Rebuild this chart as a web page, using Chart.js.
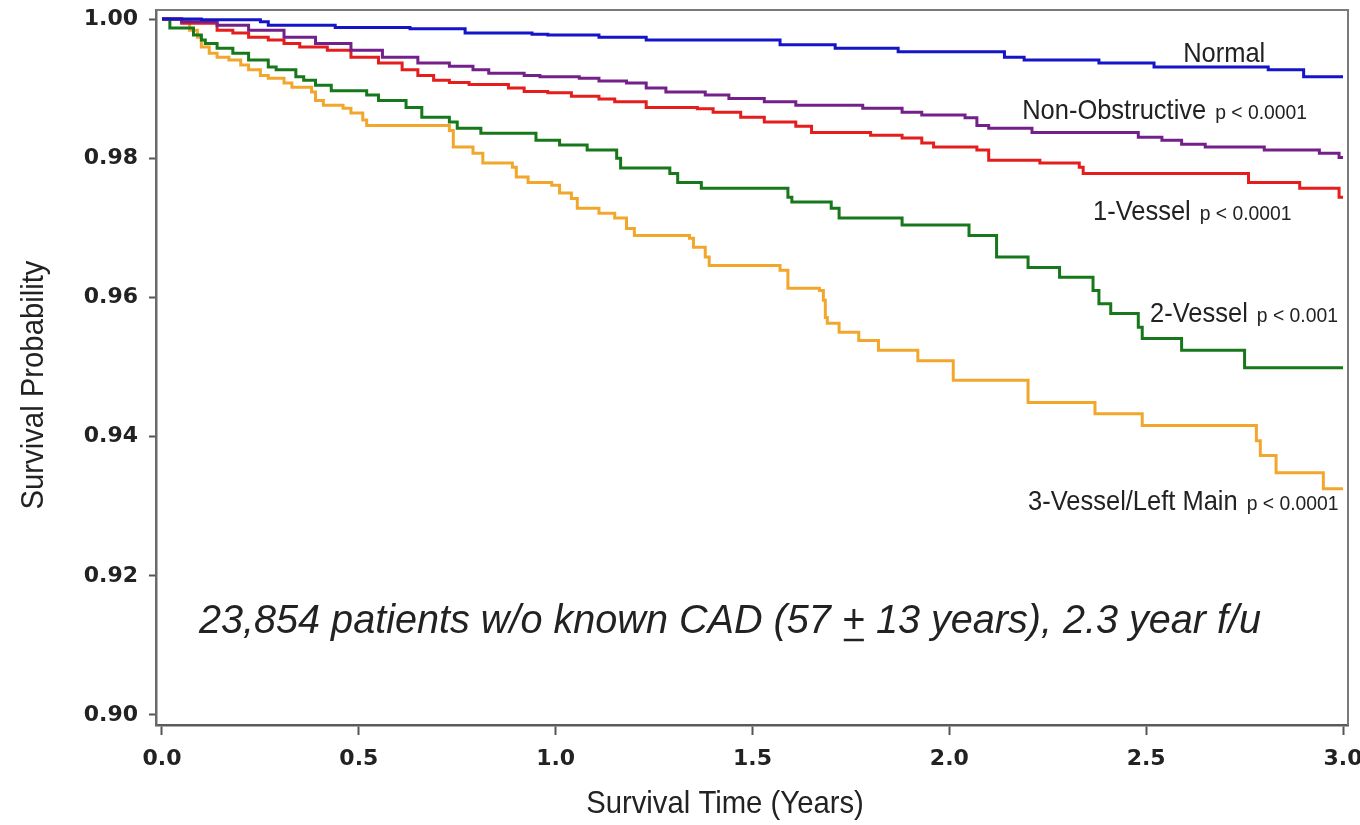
<!DOCTYPE html>
<html>
<head>
<meta charset="utf-8">
<title>Survival by CAD extent</title>
<script src="https://cdn.jsdelivr.net/npm/chart.js@4.4.1/dist/chart.umd.min.js"></script>
<style>
  html, body { margin: 0; padding: 0; background: #fff; }
  #wrap { width: 1360px; height: 825px; }
</style>
</head>
<body>
<div id="wrap"><canvas id="km" width="1360" height="825"></canvas></div>
<script>
// Kaplan-Meier survival steps (time in years, survival probability)
const normalT = [0, 0.10, 0.25, 0.27, 0.44, 0.63, 0.77, 0.94, 0.98, 1.11, 1.23, 1.57, 1.71, 1.87, 2.14, 2.19, 2.38, 2.52, 2.81, 2.90, 3.0];
const normalS = [1, 0.9999, 0.9996, 0.9991, 0.9988, 0.9986, 0.9980, 0.9978, 0.9977, 0.9974, 0.9970, 0.9963, 0.9958, 0.9953, 0.9945, 0.9941, 0.9937, 0.9931, 0.9927, 0.9917, 0.9917];

const nonObsT = [0, 0.05, 0.14, 0.22, 0.31, 0.39, 0.48, 0.56, 0.65, 0.73, 0.79, 0.83, 0.92, 0.96, 1.06, 1.11, 1.18, 1.23, 1.28, 1.38, 1.44, 1.53, 1.61, 1.78, 1.88, 1.93, 2.04, 2.07, 2.10, 2.21, 2.48, 2.54, 2.59, 2.65, 2.80, 2.94, 2.99, 3.0];
const nonObsS = [1, 0.9996, 0.9991, 0.9984, 0.9974, 0.9965, 0.9955, 0.9945, 0.9937, 0.9932, 0.9927, 0.9922, 0.9919, 0.9917, 0.9915, 0.9911, 0.9908, 0.9901, 0.9895, 0.9891, 0.9886, 0.9881, 0.9876, 0.9872, 0.9866, 0.9862, 0.9858, 0.9847, 0.9843, 0.9837, 0.9830, 0.9826, 0.9820, 0.9816, 0.9812, 0.9807, 0.9801, 0.9801];

const oneVesT = [0, 0.05, 0.14, 0.18, 0.22, 0.27, 0.31, 0.35, 0.42, 0.48, 0.55, 0.61, 0.65, 0.69, 0.73, 0.78, 0.88, 0.92, 0.98, 1.04, 1.11, 1.15, 1.23, 1.36, 1.40, 1.47, 1.53, 1.61, 1.65, 1.80, 1.88, 1.93, 1.96, 2.07, 2.10, 2.23, 2.33, 2.34, 2.76, 2.89, 2.99, 3.0];
const oneVesS = [1, 0.9994, 0.9984, 0.9980, 0.9974, 0.9970, 0.9965, 0.9960, 0.9955, 0.9945, 0.9937, 0.9927, 0.9919, 0.9912, 0.9909, 0.9906, 0.9901, 0.9896, 0.9894, 0.9889, 0.9885, 0.9881, 0.9873, 0.9871, 0.9866, 0.9859, 0.9852, 0.9846, 0.9837, 0.9833, 0.9829, 0.9822, 0.9816, 0.9812, 0.9797, 0.9793, 0.9787, 0.9778, 0.9765, 0.9757, 0.9744, 0.9744];

const twoVesT = [0, 0.02, 0.08, 0.10, 0.11, 0.14, 0.18, 0.22, 0.27, 0.29, 0.34, 0.36, 0.39, 0.43, 0.52, 0.55, 0.62, 0.66, 0.73, 0.75, 0.81, 0.95, 1.01, 1.08, 1.155, 1.165, 1.29, 1.31, 1.37, 1.59, 1.60, 1.70, 1.72, 1.88, 2.05, 2.12, 2.20, 2.28, 2.365, 2.38, 2.41, 2.48, 2.49, 2.59, 2.75, 3.0];
const twoVesS = [1, 0.9987, 0.9977, 0.9970, 0.9965, 0.9958, 0.9951, 0.9941, 0.9931, 0.9927, 0.9917, 0.9912, 0.9905, 0.9897, 0.9891, 0.9883, 0.9873, 0.9859, 0.9852, 0.9843, 0.9836, 0.9826, 0.9819, 0.9812, 0.9800, 0.9786, 0.9778, 0.9765, 0.9757, 0.9744, 0.9737, 0.9728, 0.9714, 0.9704, 0.9689, 0.9658, 0.9643, 0.9629, 0.9610, 0.9591, 0.9577, 0.9557, 0.9541, 0.9524, 0.9499, 0.9499];

const threeVesT = [0, 0.05, 0.07, 0.09, 0.10, 0.12, 0.14, 0.17, 0.20, 0.22, 0.25, 0.27, 0.31, 0.33, 0.38, 0.39, 0.41, 0.46, 0.48, 0.51, 0.52, 0.73, 0.74, 0.79, 0.815, 0.89, 0.90, 0.93, 0.99, 1.01, 1.04, 1.055, 1.11, 1.15, 1.18, 1.20, 1.34, 1.35, 1.38, 1.39, 1.57, 1.59, 1.67, 1.68, 1.685, 1.69, 1.72, 1.77, 1.82, 1.92, 2.01, 2.20, 2.37, 2.49, 2.78, 2.79, 2.83, 2.95, 3.0];
const threeVesS = [1, 0.9996, 0.9984, 0.9974, 0.9960, 0.9951, 0.9945, 0.9941, 0.9934, 0.9927, 0.9919, 0.9915, 0.9908, 0.9902, 0.9895, 0.9883, 0.9876, 0.9872, 0.9865, 0.9855, 0.9847, 0.9840, 0.9816, 0.9807, 0.9793, 0.9787, 0.9773, 0.9765, 0.9761, 0.9750, 0.9742, 0.9728, 0.9721, 0.9714, 0.9699, 0.9689, 0.9685, 0.9672, 0.9658, 0.9646, 0.9639, 0.9613, 0.9610, 0.9596, 0.9571, 0.9563, 0.9550, 0.9538, 0.9524, 0.9509, 0.9481, 0.9449, 0.9433, 0.9416, 0.9394, 0.9373, 0.9348, 0.9325, 0.9325];

const groupNames = ['Normal', 'Non-Obstructive', '1-Vessel', '2-Vessel', '3-Vessel/Left Main'];
const pValues = ['', 'p < 0.0001', 'p < 0.0001', 'p < 0.001', 'p < 0.0001'];
const groupColors = ['#1414c8', '#74208a', '#e51d1d', '#16781a', '#f2a72c'];

// where each group label starts (time, survival of its baseline)
const labelT = [2.594, 2.185, 2.365, 2.510, 2.200];
const labelS = [0.99382, 0.98563, 0.97112, 0.95647, 0.92945];

const xTicks = [0, 0.5, 1.0, 1.5, 2.0, 2.5, 3.0];
const yTicks = [0.90, 0.92, 0.94, 0.96, 0.98, 1.00];

const noteParts = ['23,854 patients w/o known CAD (57 ', '+', ' 13 years), 2.3 year f/u'];
const noteT = 0.094, noteS = 0.91178;

const TEXT = '#222';
const SANS = '"Liberation Sans", Arial, sans-serif';

const series = [
    [normalT, normalS],
    [nonObsT, nonObsS],
    [oneVesT, oneVesS],
    [twoVesT, twoVesS],
    [threeVesT, threeVesS]
];

function toPoints(ts, ss) {
    return ts.map((t, i) => ({ x: t, y: ss[i] }));
}

// draws text squeezed horizontally by sx, returns drawn width
function drawText(ctx, str, x, y, font, sx, align) {
    ctx.save();
    ctx.font = font;
    ctx.fillStyle = TEXT;
    ctx.textBaseline = 'alphabetic';
    ctx.textAlign = align || 'left';
    ctx.translate(x, y);
    ctx.scale(sx, 1);
    ctx.fillText(str, 0, 0);
    const w = ctx.measureText(str).width * sx;
    ctx.restore();
    return w;
}

const frame = {
    id: 'frame',
    beforeDatasetsDraw(chart) {
        const { ctx, chartArea: a } = chart;
        ctx.save();
        ctx.strokeStyle = '#7a7a7a';
        ctx.lineWidth = 2;
        ctx.beginPath();
        ctx.moveTo(a.left, a.top);
        ctx.lineTo(a.right, a.top);
        ctx.lineTo(a.right, a.bottom);
        ctx.stroke();
        ctx.restore();
    }
};

const annotations = {
    id: 'annotations',
    afterDraw(chart) {
        const { ctx } = chart;
        const xs = chart.scales.x, ys = chart.scales.y;

        groupNames.forEach((name, i) => {
            const x = xs.getPixelForValue(labelT[i]);
            const y = ys.getPixelForValue(labelS[i]);
            const w = drawText(ctx, name, x, y, '28px ' + SANS, 0.91);
            if (pValues[i]) drawText(ctx, pValues[i], x + w + 9, y, '21px ' + SANS, 0.92);
        });

        // cohort note, with the +/- written as an underlined plus
        let x = xs.getPixelForValue(noteT);
        const y = ys.getPixelForValue(noteS);
        const font = 'italic 40px ' + SANS;
        const sx = 0.99;
        x += drawText(ctx, noteParts[0], x, y, font, sx);
        const pw = drawText(ctx, noteParts[1], x, y, font, sx);
        ctx.save();
        ctx.strokeStyle = TEXT;
        ctx.lineWidth = 2.5;
        ctx.beginPath();
        ctx.moveTo(x + 2, y + 7);
        ctx.lineTo(x + pw - 1, y + 7);
        ctx.stroke();
        ctx.restore();
        drawText(ctx, noteParts[2], x + pw, y, font, sx);

        // axis titles
        drawText(ctx, 'Survival Time (Years)', 725, 813, '32px ' + SANS, 0.915, 'center');
        ctx.save();
        ctx.translate(43, 385);
        ctx.rotate(-Math.PI / 2);
        drawText(ctx, 'Survival Probability', 0, 0, '32px ' + SANS, 0.915, 'center');
        ctx.restore();
    }
};

const tickFont = { family: '"DejaVu Sans", sans-serif', size: 22, weight: 'bold' };

new Chart(document.getElementById('km'), {
    type: 'line',
    data: {
        datasets: series.map(([ts, ss], i) => ({
            label: groupNames[i],
            data: toPoints(ts, ss),
            borderColor: groupColors[i],
            borderWidth: 3,
            stepped: true,
            pointRadius: 0,
            fill: false
        }))
    },
    options: {
        responsive: false,
        animation: false,
        layout: { padding: { top: 10, right: 12, left: 0, bottom: 0 } },
        plugins: { legend: { display: false }, tooltip: { enabled: false } },
        scales: {
            x: {
                type: 'linear',
                min: -0.0152,
                max: 3.0127,
                afterBuildTicks: s => { s.ticks = xTicks.map(v => ({ value: v })); },
                afterFit: s => { s.height = 100; s.paddingLeft = 0; s.paddingRight = 0; },
                ticks: { callback: v => v.toFixed(1), font: tickFont, color: TEXT, padding: 11, maxRotation: 0 },
                grid: { drawOnChartArea: false, tickLength: 10, color: '#555', tickWidth: 2 },
                border: { display: true, color: '#5a5a5a', width: 2.5 }
            },
            y: {
                type: 'linear',
                min: 0.89856,
                max: 1.0013,
                afterBuildTicks: s => { s.ticks = yTicks.map(v => ({ value: v })); },
                afterFit: s => { s.width = 156; s.paddingTop = 0; s.paddingBottom = 0; },
                ticks: { callback: v => v.toFixed(2), font: tickFont, color: TEXT, padding: 11 },
                grid: { drawOnChartArea: false, tickLength: 7, color: '#555', tickWidth: 2 },
                border: { display: true, color: '#6a6a6a', width: 2.5 }
            }
        }
    },
    plugins: [frame, annotations]
});
</script>
</body>
</html>
